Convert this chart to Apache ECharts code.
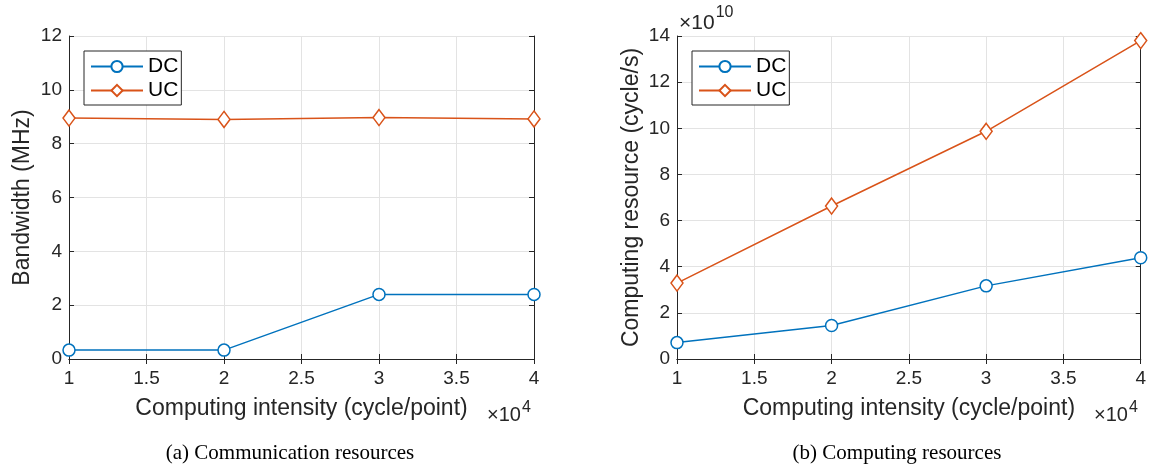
<!DOCTYPE html>
<html>
<head>
<meta charset="utf-8">
<script src="https://cdn.jsdelivr.net/npm/echarts@6/dist/echarts.min.js"></script>
<style>
  html, body { margin: 0; padding: 0; background: #fff; }
  #chart { width: 1149px; height: 466px; }
</style>
</head>
<body>
<div id="chart"></div>
<script>
// Computing intensity, in units of 1e4 cycle/point
const intensity = [1, 2, 3, 4];

// (a) Bandwidth allocated (MHz)
const bandwidthDC = [0.33, 0.33, 2.4, 2.4];
const bandwidthUC = [8.95, 8.9, 8.97, 8.92];

// (b) Computing resource allocated, in units of 1e10 cycle/s
const computeDC = [0.71, 1.45, 3.17, 4.39];
const computeUC = [3.29, 6.63, 9.87, 13.8];

const seriesNames = ['DC', 'UC'];
const captions = ['(a) Communication resources', '(b) Computing resources'];

const BLUE = '#0072BD';
const ORANGE = '#D95319';
const AXIS = '#262626';
const GRIDLINE = '#e3e3e3';
const FONT = 'Liberation Sans, Arial, Helvetica, sans-serif';

const toPairs = (ys) => intensity.map((x, i) => [x, ys[i]]);

const grids = [
  { left: 69, top: 36, width: 465, height: 323 },
  { left: 677, top: 36, width: 465, height: 323 }
];

function xAxes(gi) {
  const base = {
    type: 'value', gridIndex: gi, min: 1, max: 4, interval: 0.5,
    axisLine: { show: true, lineStyle: { color: AXIS, width: 1 } },
    axisTick: { show: true, inside: true, length: 5, lineStyle: { color: AXIS } },
    splitLine: { show: false }
  };
  return [
    Object.assign({}, base, {
      position: 'bottom',
      splitLine: { show: true, lineStyle: { color: GRIDLINE, width: 1 } },
      axisLabel: { color: AXIS, fontSize: 19, fontFamily: FONT, margin: 10,
        formatter: v => String(v) },
      name: 'Computing intensity (cycle/point)',
      nameLocation: 'middle', nameGap: 38,
      nameTextStyle: { color: AXIS, fontSize: 23, fontFamily: FONT }
    }),
    Object.assign({}, base, { position: 'top', axisLabel: { show: false } })
  ];
}

function yAxes(gi, max, name, gap) {
  const base = {
    type: 'value', gridIndex: gi, min: 0, max: max, interval: 2,
    axisLine: { show: true, lineStyle: { color: AXIS, width: 1 } },
    axisTick: { show: true, inside: true, length: 5, lineStyle: { color: AXIS } },
    splitLine: { show: false }
  };
  return [
    Object.assign({}, base, {
      position: 'left',
      splitLine: { show: true, lineStyle: { color: GRIDLINE, width: 1 } },
      axisLabel: { color: AXIS, fontSize: 19, fontFamily: FONT, margin: 7 },
      name: name, nameLocation: 'middle', nameGap: gap,
      nameTextStyle: { color: AXIS, fontSize: 23, fontFamily: FONT }
    }),
    Object.assign({}, base, { position: 'right', axisLabel: { show: false } })
  ];
}

function lineSeries(name, data, gi, color, symbol, size) {
  return {
    name: name, type: 'line', data: toPairs(data),
    xAxisIndex: gi * 2, yAxisIndex: gi * 2,
    symbol: symbol, symbolSize: size, showAllSymbol: true,
    lineStyle: { color: color, width: 1.5 },
    itemStyle: { color: '#fff', borderColor: color, borderWidth: 1.5 },
    emphasis: { disabled: true },
    animation: false, z: 5
  };
}

function legendAt(left, top) {
  return {
    data: seriesNames, orient: 'vertical', left: left, top: top,
    itemWidth: 52, itemHeight: 14, itemGap: 3,
    padding: [5, 3, 4, 6],
    borderColor: AXIS, borderWidth: 1, backgroundColor: '#fff',
    textStyle: { color: '#000', fontSize: 21, fontFamily: FONT },
    selectedMode: false
  };
}

// "×10^n" scale marker: base text with a raised exponent beside it
function timesTen(x, top, exp, size, supSize, supTop) {
  return [
    { type: 'text', x: x, y: top,
      style: { text: '×10', fontSize: size, fontFamily: FONT, fill: AXIS, verticalAlign: 'top' } },
    { type: 'text', x: x + size * 1.7 + 1, y: supTop,
      style: { text: exp, fontSize: supSize, fontFamily: FONT, fill: AXIS, verticalAlign: 'top' } }
  ];
}

function caption(cx, y, text) {
  return {
    type: 'text', x: cx, y: y,
    style: { text: text, fontSize: 21, fontFamily: 'Liberation Serif, Times New Roman, serif',
      fill: '#000', align: 'center', verticalAlign: 'top' }
  };
}

const option = {
  backgroundColor: '#fff',
  animation: false,
  grid: grids,
  xAxis: [...xAxes(0), ...xAxes(1)],
  yAxis: [...yAxes(0, 12, 'Bandwidth (MHz)', 35), ...yAxes(1, 14, 'Computing resource (cycle/s)', 34)],
  legend: [legendAt(84, 51), legendAt(692, 51)],
  series: [
    lineSeries('DC', bandwidthDC, 0, BLUE, 'circle', 12),
    lineSeries('UC', bandwidthUC, 0, ORANGE, 'diamond', [12, 16]),
    lineSeries('DC', computeDC, 1, BLUE, 'circle', 12),
    lineSeries('UC', computeUC, 1, ORANGE, 'diamond', [12, 16])
  ],
  graphic: [
    ...timesTen(487, 405, '4', 20, 16, 400),
    ...timesTen(1094, 405, '4', 20, 16, 400),
    ...timesTen(679, 13, '10', 21, 16, 5),
    caption(290, 443, captions[0]),
    caption(897, 443, captions[1])
  ]
};

const chart = echarts.init(document.getElementById('chart'), null, { renderer: 'canvas' });
chart.setOption(option);
</script>
</body>
</html>
